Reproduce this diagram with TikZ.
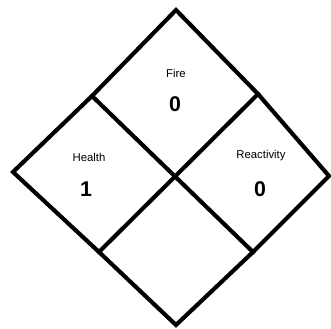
\documentclass[tikz,border=0pt]{standalone}
\usepackage{fontspec}
\setmainfont{Liberation Sans}
\usepackage{tikz}
\tikzset{
  edge/.style={draw=black,line width=3.1pt,line join=miter,line cap=rect},
  label/.style={font=\fontsize{8.5}{10}\selectfont,inner sep=0pt},
  rating/.style={font=\fontsize{16}{18}\selectfont\bfseries,inner sep=0pt}
}
\begin{document}
\begin{tikzpicture}[x=0.75pt,y=-0.75pt]
  \useasboundingbox (0,0) rectangle (331,328);
  % outer corners of the diamond
  \coordinate (top) at (176,10);
  \coordinate (left) at (13,172);
  \coordinate (right) at (329,176);
  \coordinate (bottom) at (176,325);
  % split points on the edges
  \coordinate (tl) at (92,96);
  \coordinate (tr) at (258,94);
  \coordinate (bl) at (99,252);
  \coordinate (br) at (253,252);
  \coordinate (mid) at (intersection of tl--br and tr--bl);
  \draw[edge] (top) -- (tr) -- (right) -- (br) -- (bottom) -- (bl) -- (left) -- (tl) -- cycle;
  \draw[edge] (tl) -- (mid) -- (br);
  \draw[edge] (tr) -- (mid) -- (bl);
  % texts
  \node[label] (fire) at (176,73) {Fire};
  \node[rating] (firenum) at (175,104) {0};
  \node[label] (health) at (89,157) {Health};
  \node[rating] (healthnum) at (86,189) {1};
  \node[label] (react) at (261,156) {Reactivity};
  \node[rating] (reactnum) at (260,189) {0};
\end{tikzpicture}
\end{document}
